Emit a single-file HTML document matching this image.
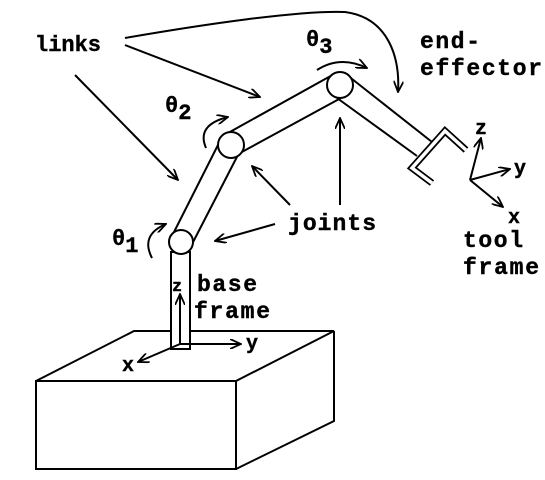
<!DOCTYPE html>
<html><head><meta charset="utf-8"><style>
html,body{margin:0;padding:0;background:#fff;}
svg{display:block;}
text{font-family:"Liberation Mono",monospace;font-weight:bold;fill:#000;stroke:#000;stroke-width:0.4;}
</style></head><body>
<svg width="545" height="480" viewBox="0 0 545 480">
<defs>
<marker id="ah" markerWidth="12" markerHeight="10" refX="11" refY="5" orient="auto" markerUnits="userSpaceOnUse">
<path d="M0,0 L11,5 L0,10" fill="none" stroke="#000" stroke-width="1.8"/>
</marker>
</defs>
<g fill="none" stroke="#000" stroke-width="2">
<g>
<rect x="36" y="381" width="200" height="88"/>
<path d="M36,381 L134,331 L334,331 L236,381 M334,331 L334,421 L236,469"/>
</g>
<rect x="171" y="252" width="19" height="97" fill="#fff"/>
<path d="M171,238 L220,141 M190,248 L240,151"/>
<path d="M228,133 L336,73 M240,153 L341,98"/>
<path d="M347,75 L432,142 M337,98 L417,156"/>
<g>
<polyline points="466,150 445,131 412,168 432,183" stroke-width="7" stroke-linejoin="miter"/>
<polyline points="466,150 445,131 412,168 432,183" stroke="#fff" stroke-width="3.5"/>
</g>
<circle cx="181" cy="242" r="12" fill="#fff"/>
<circle cx="231" cy="145" r="13" fill="#fff"/>
<circle cx="340" cy="85" r="13" fill="#fff"/>
<path d="M75,75 L178,180" marker-end="url(#ah)"/>
<path d="M125,45 L260,97" marker-end="url(#ah)"/>
<path d="M125,38 C200,25 300,10 345,12 C390,18 400,60 398,92" marker-end="url(#ah)"/>
<path d="M275,224 L215,241" marker-end="url(#ah)"/>
<path d="M290,205 L252,166" marker-end="url(#ah)"/>
<path d="M340,205 L340,118" marker-end="url(#ah)"/>
<path d="M317,70 Q340,55 367,68" marker-end="url(#ah)"/>
<path d="M206,148 Q196,125 228,117" marker-end="url(#ah)"/>
<path d="M152,258 Q140,235 166,224" marker-end="url(#ah)"/>
<path d="M180,344 L180,294" marker-end="url(#ah)"/>
<path d="M180,344 L241,344" marker-end="url(#ah)"/>
<path d="M180,344 L138,362" marker-end="url(#ah)"/>
<path d="M470,180 L481,138" marker-end="url(#ah)"/>
<path d="M470,180 L510,169" marker-end="url(#ah)"/>
<path d="M470,180 L503,207" marker-end="url(#ah)"/>
</g>
<text x="35" y="51" font-size="22" textLength="66">links</text>
<text x="420" y="48" font-size="23" textLength="60">end-</text>
<text x="420" y="75" font-size="23" textLength="122">effector</text>
<text x="306" y="46" font-size="22">θ<tspan dy="7">3</tspan></text>
<text x="165" y="112" font-size="22">θ<tspan dy="7">2</tspan></text>
<text x="112" y="245" font-size="22">θ<tspan dy="7">1</tspan></text>
<text x="288" y="230" font-size="23" textLength="88">joints</text>
<text x="463" y="247" font-size="23" textLength="60">tool</text>
<text x="463" y="274" font-size="23" textLength="76">frame</text>
<text x="197" y="291" font-size="23" textLength="60">base</text>
<text x="194" y="318" font-size="23" textLength="76">frame</text>
<text x="172" y="291" font-size="17">z</text>
<text x="246" y="349" font-size="20">y</text>
<text x="122" y="371" font-size="20">x</text>
<text x="475" y="134" font-size="20">z</text>
<text x="514" y="174" font-size="20">y</text>
<text x="508" y="223" font-size="20">x</text>
</svg>
</body></html>
